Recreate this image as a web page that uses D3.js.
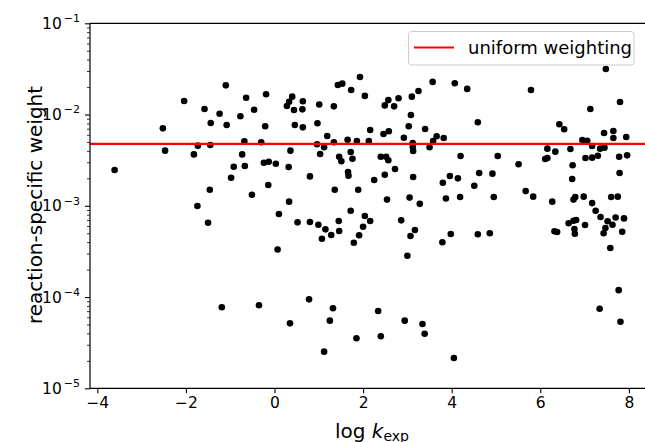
<!DOCTYPE html>
<html>
<head>
<meta charset="utf-8">
<script src="https://cdn.jsdelivr.net/npm/d3@7"></script>
<style>
  body { margin: 0; background: #fff; }
  svg { display: block; font-family: "DejaVu Sans", sans-serif; }
</style>
</head>
<body>
<div class="chart"></div>
<script>
// log k_exp of each reaction
var logK = [
  -3.61,-2.52,-2.47,-2.04,-1.82,-1.74,-1.73,-1.58,-1.46,-1.45,
  -1.44,-1.24,-1.10,-1.08,-0.98,-0.92,-0.77,-0.73,-0.68,-0.67,
  -0.64,-0.51,-0.46,-0.30,-0.24,-0.21,-0.19,-0.14,-0.13,0.03,
  0.10,0.28,0.33,0.40,0.44,0.63,0.64,0.46,0.64,0.36,
  0.32,0.33,0.80,0.97,1.01,0.96,1.03,1.12,1.19,1.34,
  1.34,1.36,1.43,1.53,1.46,1.51,1.65,1.72,1.76,1.66,
  1.67,1.73,1.93,2.04,1.86,1.89,1.72,2.04,2.13,2.16,
  2.25,2.40,2.52,2.57,2.49,2.46,2.58,2.49,2.57,2.70,
  2.80,2.72,2.54,2.92,3.03,3.08,3.10,3.25,3.12,3.12,
  3.13,3.13,3.05,3.28,3.40,3.50,3.58,3.66,3.82,3.57,
  4.07,3.80,3.96,4.14,3.87,4.19,4.20,0.52,0.80,0.99,
  1.15,1.07,1.28,1.45,1.46,2.16,2.00,1.91,1.79,0.07,
  2.86,3.17,3.07,3.00,3.98,3.79,0.78,0.35,1.32,1.25,
  1.12,1.85,2.40,2.34,2.94,3.34,3.39,4.05,-1.50,-1.19,
  -0.35,4.35,4.59,4.51,4.62,4.92,5.04,4.95,5.51,5.67,
  5.84,5.79,6.16,6.11,6.16,6.34,6.27,6.43,6.54,6.68,
  6.73,6.72,6.75,6.79,6.98,6.95,7.06,7.17,7.13,7.02,
  7.17,7.30,7.35,7.45,7.44,7.48,7.65,7.65,7.80,7.94,
  7.78,7.96,7.79,7.17,7.25,7.36,7.60,7.75,7.70,7.89,
  6.81,4.59,4.86,6.32,6.38,6.64,6.75,6.77,6.78,7.01,
  7.52,7.63,7.47,7.43,7.85,7.58,7.77,7.34,7.81
];

// reaction-specific weight of each reaction
var weight = [
  0.00247,0.00706,0.00402,0.0141,0.00366,0.000995,0.00456,0.0115,0.00150,0.00463,
  0.00807,0.0102,0.0209,0.00767,0.00203,0.00268,0.00957,0.00366,0.00509,0.00273,
  0.0153,0.00132,0.0113,0.00497,0.00296,0.00743,0.0167,0.00169,0.00304,0.00289,
  0.000813,0.0124,0.0138,0.0157,0.0112,0.0114,0.0140,0.00767,0.00724,0.00402,
  0.00266,0.00111,0.00210,0.00802,0.0129,0.00472,0.00370,0.00438,0.00582,0.00497,
  0.0123,0.00150,0.0211,0.0218,0.00345,0.00308,0.00530,0.00389,0.00328,0.00234,
  0.00214,0.0186,0.0258,0.0160,0.00513,0.00150,0.000883,0.000773,0.00513,0.00678,
  0.00192,0.00345,0.00345,0.00316,0.00219,0.00612,0.00655,0.0126,0.0144,0.0123,
  0.0151,0.00253,0.00117,0.00557,0.00743,0.00989,0.0157,0.0181,0.00488,0.00441,
  0.00399,0.00207,0.00123,0.00105,0.00695,0.00438,0.00513,0.00578,0.00553,0.0228,
  0.0220,0.00179,0.00212,0.00200,0.00120,0.00125,0.00352,0.000659,0.000664,0.000621,
  0.000552,0.000436,0.000479,0.000681,0.000530,0.000681,0.000590,0.000475,0.000394,0.000332,
  0.000693,0.000543,0.000467,0.000284,0.000491,0.000399,0.0000944,0.0000515,0.0000753,0.0000551,
  0.0000252,0.0000353,0.0000372,0.0000703,0.0000551,0.0000507,0.0000396,0.0000215,0.000653,0.0000773,
  0.0000813,0.0191,0.00822,0.00166,0.00229,0.00225,0.00352,0.00125,0.00285,0.00145,
  0.00126,0.0186,0.00423,0.00326,0.00334,0.00392,0.00111,0.00782,0.00689,0.00419,
  0.00278,0.00197,0.00117,0.00125,0.00126,0.00526,0.00516,0.00452,0.0115,0.00334,
  0.00337,0.00354,0.00423,0.00434,0.00628,0.0316,0.00661,0.00553,0.0137,0.00568,
  0.00345,0.00357,0.00229,0.00107,0.000883,0.000753,0.00125,0.00126,0.000745,0.000728,
  0.000698,0.000488,0.000500,0.000526,0.000516,0.000643,0.000687,0.000557,0.000494,0.000617,
  0.000676,0.000621,0.000571,0.000500,0.000520,0.000345,0.000119,0.0000745,0.0000537
];

var uniformWeight = 1 / 210;
var xTicks = [-4, -2, 0, 2, 4, 6, 8];
var yTicks = [1e-1, 1e-2, 1e-3, 1e-4, 1e-5];
var yTickExp = ["\u22121", "\u22122", "\u22123", "\u22124", "\u22125"];
var legendLabel = "uniform weighting";

var data = logK.map(function(k, i) { return {k: k, w: weight[i]}; });

// svg and plot area (right edge of the axes lies just outside the picture)
var svgWidth = 645, svgHeight = 442;
var plotLeft = 90, plotRight = 652, plotTop = 23.3, plotBottom = 388.3;

var svg = d3.select(".chart").append("svg")
  .attr("width", svgWidth)
  .attr("height", svgHeight);

var x = d3.scaleLinear().domain([-4.165, 8.522]).range([plotLeft, plotRight]);
var y = d3.scaleLog().domain([1e-5, 1e-1]).range([plotBottom, plotTop]);

svg.append("clipPath").attr("id", "plotclip")
  .append("rect")
  .attr("x", plotLeft).attr("y", plotTop)
  .attr("width", plotRight - plotLeft).attr("height", plotBottom - plotTop);

var plot = svg.append("g").attr("clip-path", "url(#plotclip)");

// points
plot.selectAll("circle")
  .data(data)
  .enter()
  .append("circle")
  .attr("cx", d => x(d.k))
  .attr("cy", d => y(d.w))
  .attr("r", 3.3)
  .attr("fill", "#000");

// uniform weighting line
plot.append("line")
  .attr("x1", plotLeft).attr("x2", plotRight)
  .attr("y1", y(uniformWeight)).attr("y2", y(uniformWeight))
  .attr("stroke", "#ff0000")
  .attr("stroke-width", 2.2);

// x axis
var xAxis = svg.append("g")
  .attr("transform", `translate(0, ${plotBottom})`)
  .call(d3.axisBottom(x).tickValues(xTicks).tickSize(5).tickPadding(4)
    .tickFormat(d => d3.format("d")(d).replace("-", "\u2212")));
xAxis.select(".domain").remove();
xAxis.selectAll("line").attr("stroke", "#000").attr("stroke-width", 1.1);
xAxis.selectAll("text").attr("font-size", 15.5).attr("fill", "#000")
  .attr("font-family", "DejaVu Sans");

// y axis: major ticks
var yAxis = svg.append("g")
  .attr("transform", `translate(${plotLeft}, 0)`)
  .call(d3.axisLeft(y).tickValues(yTicks).tickSize(5).tickFormat(""));
yAxis.select(".domain").remove();
yAxis.selectAll("line").attr("stroke", "#000").attr("stroke-width", 1.1);

// y axis: minor ticks
var minor = [];
[1e-5, 1e-4, 1e-3, 1e-2].forEach(function(base) {
  for (var m = 2; m <= 9; m++) minor.push(base * m);
});
var yMinor = svg.append("g")
  .attr("transform", `translate(${plotLeft}, 0)`)
  .call(d3.axisLeft(y).tickValues(minor).tickSize(3).tickFormat(""));
yMinor.select(".domain").remove();
yMinor.selectAll("line").attr("stroke", "#000").attr("stroke-width", 0.8);

// y tick labels as 10 with superscript
yTicks.forEach(function(t, i) {
  var lab = svg.append("text")
    .attr("x", 80)
    .attr("y", y(t) + 5.5)
    .attr("text-anchor", "end")
    .attr("font-size", 15.5)
    .attr("fill", "#000");
  lab.append("tspan").text("10");
  lab.append("tspan")
    .attr("dx", 2)
    .attr("dy", -6.7)
    .attr("font-size", 11)
    .text(yTickExp[i]);
});

// spines
svg.append("line").attr("x1", plotLeft).attr("x2", plotLeft).attr("y1", plotTop).attr("y2", plotBottom)
  .attr("stroke", "#000").attr("stroke-width", 1.2);
svg.append("line").attr("x1", plotLeft).attr("x2", plotRight).attr("y1", plotBottom).attr("y2", plotBottom)
  .attr("stroke", "#000").attr("stroke-width", 1.2);
svg.append("line").attr("x1", plotLeft).attr("x2", plotRight).attr("y1", plotTop).attr("y2", plotTop)
  .attr("stroke", "#000").attr("stroke-width", 1.2);

// axis labels
var xLab = svg.append("text")
  .attr("x", 372)
  .attr("y", 438)
  .attr("text-anchor", "middle")
  .attr("font-size", 20)
  .attr("fill", "#000");
xLab.append("tspan").text("log ");
xLab.append("tspan").attr("font-style", "italic").text("k");
xLab.append("tspan").attr("font-size", 14).attr("dy", 3).text("exp");

svg.append("text")
  .attr("transform", "translate(42, 205) rotate(-90)")
  .attr("text-anchor", "middle")
  .attr("font-size", 20)
  .attr("fill", "#000")
  .text("reaction-specific weight");

// legend
var legend = svg.append("g");
legend.append("rect")
  .attr("x", 408.5).attr("y", 31.5)
  .attr("width", 225.5).attr("height", 33.5)
  .attr("rx", 3)
  .attr("fill", "#fff")
  .attr("fill-opacity", 0.8)
  .attr("stroke", "#cccccc")
  .attr("stroke-width", 1);
legend.append("line")
  .attr("x1", 414).attr("x2", 454)
  .attr("y1", 47.5).attr("y2", 47.5)
  .attr("stroke", "#ff0000")
  .attr("stroke-width", 2.2);
legend.append("text")
  .attr("x", 468)
  .attr("y", 53.5)
  .attr("font-size", 18)
  .attr("fill", "#000")
  .text(legendLabel);
</script>
</body>
</html>
